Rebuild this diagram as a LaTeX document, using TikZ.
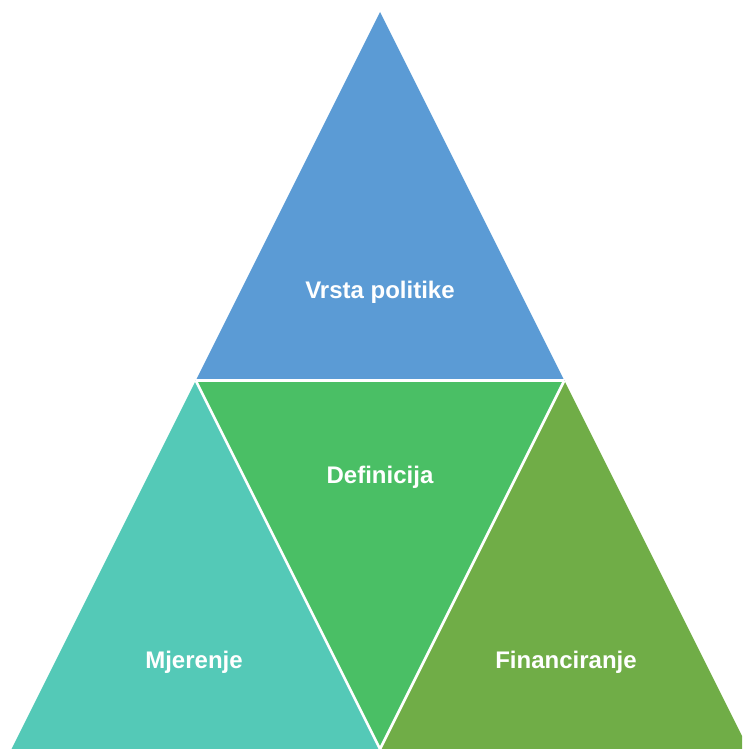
\documentclass[tikz,border=0pt]{standalone}
\usepackage{fontspec}
\setmainfont{Liberation Sans}
\definecolor{cblue}{RGB}{91,155,213}
\definecolor{cgreen}{RGB}{74,191,101}
\definecolor{cteal}{RGB}{84,201,183}
\definecolor{colive}{RGB}{112,173,71}
\tikzset{
  sep/.style={draw=white, line width=2pt},
  lbl/.style={text=white, font=\bfseries\fontsize{18}{20}\selectfont, anchor=base, inner sep=0pt}
}
\begin{document}
\begin{tikzpicture}[x=0.75pt, y=-0.75pt]
\useasboundingbox (0,0) rectangle (742,749);
\clip (0,0) rectangle (742,749);
\coordinate (A) at (380,12);
\coordinate (BL) at (11.5,749);
\coordinate (BR) at (748.5,749);
\coordinate (ML) at (195.75,380.5);
\coordinate (MR) at (564.25,380.5);
\coordinate (MB) at (380,749);
\fill[cblue] (A) -- (ML) -- (MR) -- cycle;
\fill[cgreen] (ML) -- (MR) -- (MB) -- cycle;
\fill[cteal] (ML) -- (MB) -- (BL) -- cycle;
\fill[colive] (MR) -- (BR) -- (MB) -- cycle;
\draw[sep] (ML) -- (MR);
\draw[sep] (ML) -- (MB);
\draw[sep] (MR) -- (MB);
\node[lbl] (t1) at (380,298) {Vrsta politike};
\node[lbl] (t2) at (380,483) {Definicija};
\node[lbl] (t3) at (194,668) {Mjerenje};
\node[lbl] (t4) at (566,668) {Financiranje};
\end{tikzpicture}
\end{document}
